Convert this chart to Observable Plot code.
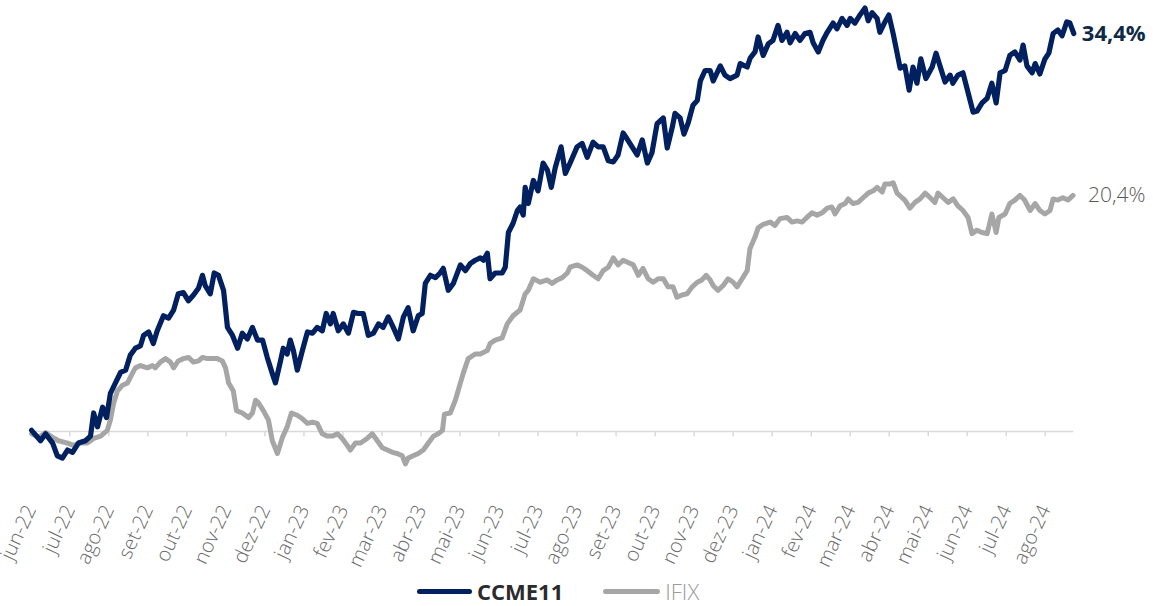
<!DOCTYPE html>
<html>
<head>
<meta charset="utf-8">
<script src="https://cdn.jsdelivr.net/npm/d3@7"></script>
<script src="https://cdn.jsdelivr.net/npm/@observablehq/plot@0.6"></script>
<style>
  html, body { margin: 0; padding: 0; background: #fff; overflow: hidden; }
  #chart svg { display: block; }
  #legend { display: flex; align-items: center; height: 30px; line-height: 30px; padding-left: 417px;
            font-family: 'Open Sans', sans-serif; font-size: 22px; }
  .sw { display: inline-block; height: 5px; border-radius: 3px; }
</style>
</head>
<body>
<div id="chart"></div>
<div id="legend">
  <span class="sw" style="width:55px;background:#002060"></span>
  <span style="margin-left:5px;font-weight:700;color:#2b2b2b">CCME11</span>
  <span class="sw" style="width:57px;background:#a6a6a6;margin-left:40px"></span>
  <span style="margin-left:5px;font-weight:300;color:#9a9a9a">IFIX</span>
</div>
<script>
// month labels (x categories, one per month starting jun-22)
const monthLabels = ["jun-22","jul-22","ago-22","set-22","out-22","nov-22","dez-22",
  "jan-23","fev-23","mar-23","abr-23","mai-23","jun-23","jul-23","ago-23","set-23","out-23","nov-23","dez-23",
  "jan-24","fev-24","mar-24","abr-24","mai-24","jun-24","jul-24","ago-24"];

// CCME11: time in months since jun-22, cumulative return (%)
const ccmeT = [0.02,0.25,0.38,0.56,0.68,0.81,0.94,1.07,1.22,1.40,1.53,1.61,1.71,1.84,1.94,2.04,2.17,2.30,2.43,2.55,2.68,2.81,2.89,3.02,3.14,3.24,3.40,3.53,3.66,3.78,3.91,4.04,4.17,4.30,4.40,4.47,4.60,4.70,4.81,4.94,5.04,5.17,5.30,5.42,5.55,5.68,5.81,5.94,6.06,6.19,6.27,6.40,6.47,6.57,6.65,6.73,6.83,6.96,7.09,7.22,7.34,7.47,7.57,7.68,7.75,7.88,8.01,8.14,8.27,8.39,8.52,8.65,8.78,8.91,9.03,9.16,9.29,9.42,9.55,9.67,9.80,9.93,10.03,10.11,10.24,10.37,10.49,10.57,10.70,10.83,11.01,11.14,11.26,11.39,11.52,11.60,11.70,11.77,11.90,12.08,12.16,12.24,12.36,12.47,12.54,12.62,12.67,12.75,12.88,13.00,13.13,13.24,13.34,13.44,13.59,13.70,13.82,14.00,14.13,14.26,14.41,14.54,14.67,14.80,14.93,15.05,15.18,15.28,15.41,15.54,15.67,15.80,15.92,16.05,16.21,16.31,16.44,16.51,16.64,16.74,16.85,16.97,17.08,17.16,17.28,17.41,17.49,17.67,17.79,17.92,18.10,18.18,18.36,18.44,18.56,18.64,18.77,18.90,19.02,19.15,19.25,19.38,19.46,19.59,19.71,19.84,19.97,20.05,20.18,20.30,20.41,20.56,20.66,20.79,20.92,21.00,21.12,21.25,21.38,21.46,21.56,21.69,21.76,21.89,21.99,22.10,22.28,22.40,22.51,22.61,22.71,22.81,22.94,23.10,23.20,23.30,23.43,23.56,23.63,23.76,23.89,24.02,24.15,24.25,24.38,24.51,24.63,24.74,24.84,24.97,25.09,25.22,25.35,25.43,25.53,25.66,25.74,25.86,25.99,26.09,26.20,26.32,26.43,26.55,26.63,26.73];
const ccmeV = [0.1,-0.8,-0.2,-1.0,-2.1,-2.3,-1.6,-1.8,-1.0,-0.8,-0.4,1.6,0.4,2.1,1.2,3.3,4.2,5.1,5.3,6.6,7.2,7.4,8.3,8.6,7.6,8.7,10.0,9.8,10.5,11.9,12.0,11.3,11.8,12.4,13.5,12.6,11.9,13.7,13.5,12.2,9.0,8.3,7.2,8.5,8.0,9.0,7.9,7.9,6.4,5.0,4.2,6.1,7.2,6.7,7.9,7.0,5.3,7.0,8.6,8.5,9.0,8.7,10.2,9.3,10.2,8.7,9.3,8.5,10.3,10.2,10.2,8.3,8.5,9.3,9.0,9.9,9.0,8.0,9.9,10.7,8.7,10.0,10.2,12.8,13.5,13.3,13.7,14.1,12.2,12.8,14.4,13.9,14.5,14.8,15.0,14.8,15.4,13.2,13.7,13.7,14.2,17.2,18.0,19.1,19.4,18.7,21.1,19.7,21.7,20.8,23.2,22.6,21.1,22.8,24.6,22.3,23.2,24.6,24.9,23.7,25.0,24.6,24.6,23.4,23.3,23.9,25.8,25.3,24.6,23.9,25.2,23.2,24.1,26.6,27.1,24.5,26.3,27.5,27.1,25.7,26.7,28.2,28.6,30.3,31.2,31.2,30.3,31.6,30.8,30.5,30.8,31.8,31.5,32.3,32.8,34.1,32.5,33.5,33.8,35.1,33.8,34.5,33.6,34.4,33.8,34.4,34.5,33.6,32.8,33.8,34.5,35.3,34.8,35.7,35.1,35.7,35.3,36.0,36.6,35.5,36.2,35.7,34.5,35.4,36.0,34.4,31.4,31.6,29.5,31.5,30.1,32.2,30.5,31.5,32.7,31.6,30.2,30.8,30.1,30.8,31.0,29.3,27.6,27.7,28.4,28.8,30.1,28.4,31.0,31.2,32.5,32.8,32.1,33.4,31.6,31.0,31.8,30.9,32.2,32.7,34.4,34.7,34.2,35.4,35.3,34.4];

// IFIX: time in months since jun-22, cumulative return (%)
const ifixT = [0.02,0.20,0.38,0.56,0.71,0.94,1.09,1.27,1.45,1.61,1.79,1.96,2.04,2.12,2.22,2.35,2.48,2.60,2.68,2.81,2.99,3.12,3.19,3.32,3.45,3.58,3.66,3.78,3.91,4.04,4.17,4.30,4.40,4.53,4.65,4.78,4.91,4.99,5.07,5.19,5.27,5.42,5.58,5.68,5.76,5.83,5.96,6.09,6.19,6.32,6.45,6.57,6.68,6.83,6.96,7.09,7.22,7.34,7.47,7.60,7.73,7.86,7.98,8.11,8.19,8.32,8.45,8.62,8.75,8.88,9.01,9.14,9.27,9.39,9.52,9.60,9.67,9.80,9.93,10.06,10.19,10.32,10.44,10.55,10.60,10.75,10.88,11.01,11.08,11.21,11.39,11.52,11.70,11.77,11.90,12.08,12.21,12.36,12.54,12.67,12.75,12.88,13.06,13.24,13.36,13.49,13.62,13.75,13.82,14.00,14.13,14.26,14.41,14.54,14.67,14.80,14.93,15.05,15.18,15.31,15.44,15.57,15.69,15.82,15.95,16.08,16.21,16.33,16.46,16.56,16.69,16.82,16.95,17.08,17.20,17.31,17.41,17.49,17.61,17.74,17.87,18.00,18.10,18.23,18.36,18.43,18.56,18.64,18.77,18.95,19.07,19.20,19.38,19.51,19.64,19.77,19.89,20.02,20.15,20.28,20.41,20.53,20.61,20.74,20.87,20.95,21.07,21.20,21.33,21.46,21.59,21.69,21.82,21.89,22.02,22.10,22.20,22.33,22.40,22.53,22.66,22.79,22.92,23.05,23.17,23.25,23.38,23.51,23.64,23.76,23.89,24.02,24.12,24.25,24.38,24.51,24.63,24.74,24.81,24.97,25.09,25.22,25.35,25.47,25.61,25.74,25.86,25.99,26.12,26.20,26.32,26.45,26.58,26.71];
const ifixV = [-0.2,-0.5,-0.1,-0.5,-0.8,-1.0,-1.2,-1.0,-1.0,-0.6,-0.4,0.1,1.0,2.4,3.5,4.0,4.2,5.0,5.5,5.7,5.5,5.7,5.5,6.0,6.3,6.0,5.5,6.1,6.3,6.4,6.0,6.1,6.4,6.3,6.3,6.3,6.1,5.5,4.2,3.5,1.8,1.6,1.2,1.6,2.7,2.5,1.8,1.0,-0.8,-1.9,-0.5,0.4,1.6,1.4,1.1,0.7,0.8,0.7,-0.2,-0.4,-0.4,-0.2,-0.6,-1.2,-1.6,-1.0,-1.0,-0.6,-0.2,-0.8,-1.4,-1.6,-1.8,-1.9,-2.1,-2.8,-2.3,-2.1,-1.9,-1.6,-1.0,-0.4,-0.2,0.1,1.5,1.6,2.7,4.2,5.0,6.3,6.7,6.7,7.0,7.6,7.9,8.1,9.3,10.0,10.5,11.9,12.2,13.2,12.9,13.1,12.8,13.1,13.3,13.7,14.2,14.4,14.2,13.9,13.5,13.2,13.9,14.2,15.0,14.4,14.8,14.6,14.4,13.5,14.1,13.2,12.9,13.2,13.2,12.5,12.5,11.6,11.8,11.9,12.5,12.9,13.1,13.5,13.1,12.6,12.2,12.6,13.2,12.9,12.5,13.2,13.9,15.8,16.8,17.6,17.9,18.1,17.8,18.4,18.5,18.1,18.2,18.1,18.5,18.9,18.7,18.9,19.3,19.4,18.8,19.5,19.7,20.1,19.7,19.8,20.2,20.6,20.8,21.1,20.7,21.4,21.4,21.5,20.6,20.2,20.0,19.3,19.8,20.1,20.6,20.2,19.8,20.6,20.2,19.8,20.1,19.5,19.1,18.5,17.1,17.4,17.2,17.1,18.8,17.2,18.5,18.8,19.7,20.0,20.4,20.0,19.1,19.7,19.1,18.8,19.1,20.1,20.0,20.2,20.0,20.4];

const ccme = ccmeT.map((t, i) => ({t, v: ccmeV[i]}));
const ifix = ifixT.map((t, i) => ({t, v: ifixV[i]}));
const tickIdx = monthLabels.map((_, i) => i);
const fmt = v => v.toFixed(1).replace(".", ",") + "%";

const chart = Plot.plot({
  width: 1153,
  height: 576,
  marginLeft: 30.3,
  marginRight: 79.7,
  marginTop: 0,
  marginBottom: 71,
  x: {domain: [0, 26.73], label: null},
  y: {domain: [-6.396, 37.25], axis: null},
  style: {fontFamily: "'Open Sans', sans-serif", background: "white", overflow: "visible"},
  marks: [
    Plot.ruleY([0], {stroke: "#d9d9d9", strokeWidth: 1.5}),
    Plot.ruleX(tickIdx.slice(1), {x: d => d, y1: () => 0, y2: () => -0.45, stroke: "#d9d9d9", strokeWidth: 1.5}),
    Plot.axisX(tickIdx, {tickFormat: i => monthLabels[i], tickRotate: -65, tickSize: 0, tickPadding: 1,
      fontSize: 20, fontWeight: 300, fill: "#6a6a6a", label: null}),
    Plot.line(ifix, {x: "t", y: "v", stroke: "#a6a6a6", strokeWidth: 5, strokeLinejoin: "round", strokeLinecap: "round"}),
    Plot.line(ccme, {x: "t", y: "v", stroke: "#002060", strokeWidth: 5.2, strokeLinejoin: "round", strokeLinecap: "round"}),
    Plot.text([ccme[ccme.length - 1]], {x: "t", y: "v", text: d => fmt(d.v), dx: 8, textAnchor: "start",
      fontSize: 22, fontWeight: 700, fill: "#0f2a44"}),
    Plot.text([ifix[ifix.length - 1]], {x: "t", y: "v", text: d => fmt(d.v), dx: 15, textAnchor: "start",
      fontSize: 21, fontWeight: 300, fill: "#595959"})
  ]
});
document.getElementById("chart").appendChild(chart);
</script>
</body>
</html>
